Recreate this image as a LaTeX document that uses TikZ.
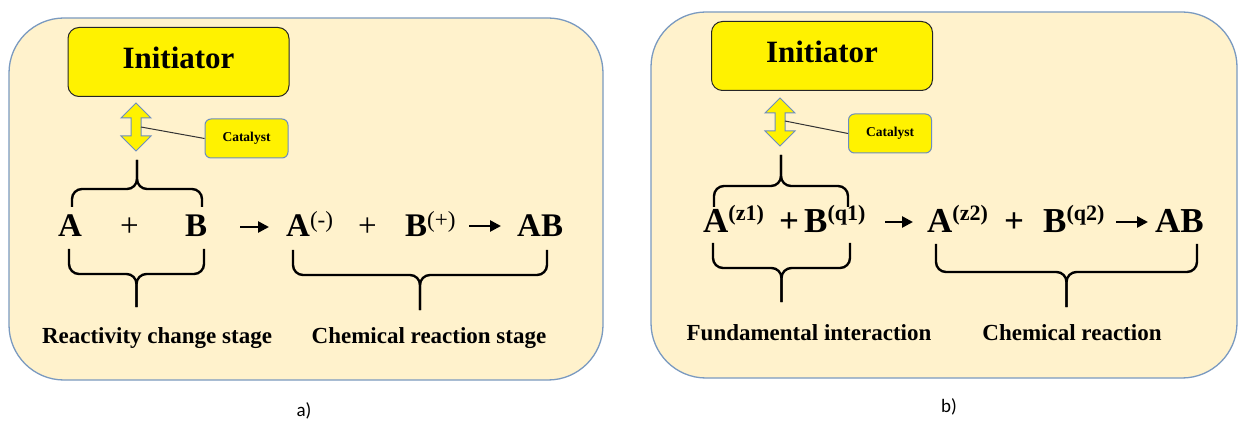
\documentclass[tikz,border=0pt]{standalone}
\usepackage{fontspec}
\setmainfont{Liberation Serif}
\newfontfamily\capfont{Carlito}
\usetikzlibrary{arrows.meta}
\tikzset{>=stealth}
\definecolor{panelfill}{HTML}{FFF2CC}
\definecolor{panelline}{HTML}{7A9AC0}
\definecolor{boxline}{HTML}{6C8EBF}
\newcommand\chargeb[1]{\raisebox{0.36em}{\fontsize{22}{22}\selectfont #1}}
\tikzset{
  panel/.style={draw=panelline, fill=panelfill, line width=1.3pt, rounded corners=55pt},
  initbox/.style={draw=black!85, fill=yellow, line width=1pt, rounded corners=11pt,
    minimum width=221pt, minimum height=69pt, inner sep=0pt, text depth=9pt,
    font=\bfseries\fontsize{31}{31}\selectfont},
  catbox/.style={draw=boxline, fill=yellow, line width=1pt, rounded corners=6pt,
    minimum width=83pt, minimum height=39pt, inner sep=0pt,
    font=\bfseries\fontsize{13.5}{13.5}\selectfont},
  dblarrow/.style={draw=boxline, fill=yellow, line width=1pt, line join=miter},
  term/.style={anchor=base west, inner sep=0pt, font=\bfseries\fontsize{33}{33}\selectfont},
  termb/.style={term, font=\bfseries\fontsize{35}{35}\selectfont},
  rxn/.style={line width=2.6pt, -{Triangle[length=11pt, width=11pt]}},
  brace/.style={line width=2.4pt, rounded corners=10pt},
  stage/.style={anchor=base, inner sep=0pt, font=\bfseries\fontsize{23}{23}\selectfont},
  tag/.style={anchor=base, inner sep=0pt, font=\capfont\fontsize{19}{19}\selectfont}
}
\begin{document}
\begin{tikzpicture}[x=1pt, y=-1pt]
	\useasboundingbox (0,0) rectangle (1240,422);
	% the two panels
	\draw[panel] (9,18) rectangle (603,380);
	\draw[panel] (651,12) rectangle (1237,378);
	% initiator and catalyst
	\node[initbox] (initA) at (178.5,62) {Initiator};
	\node[initbox] (initB) at (822,56) {Initiator};
	\node[catbox] (catA) at (246.5,138.5) {Catalyst};
	\node[catbox] (catB) at (890,133.5) {Catalyst};
	\foreach \cx/\cy in {136/127, 780/122}
	\draw[dblarrow, shift={(\cx,\cy)}] (0,-24) -- (15,-9) -- (5,-9) -- (5,9) -- (15,9) -- (0,24)
		-- (-15,9) -- (-5,9) -- (-5,-9) -- (-15,-9) -- cycle;
	\coordinate (dblA) at (141,127);
	\coordinate (dblB) at (785,121);
	\draw[line width=1pt, black!80] (dblA) -- (catA.west);
	\draw[line width=1pt, black!80] (dblB) -- (catB.west);
	% braces
	\foreach \xl/\xr/\ye/\yh/\yt in {72/202/207/189/160, 69/204/249/274/307, 293/547/250/275/310,
		714/848/207/186/155, 713/850/243/268/302, 936/1197/244/272/307}
	{
	\pgfmathsetmacro\xc{(\xl+\xr)/2}
	\draw[brace] (\xl,\ye) -- (\xl,\yh) -- (\xc,\yh) -- (\xc,\yt);
	\draw[brace] (\xr,\ye) -- (\xr,\yh) -- (\xc,\yh) -- (\xc,\yt);
	}
	% equation a)
	\foreach \x/\t [count=\i] in {58/A, 120/{\mdseries +}, 185/B, 286/{A\textsuperscript{\mdseries(-)}},
		358/{\mdseries +}, 405/{B\textsuperscript{\mdseries(+)}}, 517/AB}
	\node[term] (a\i) at (\x,237) {\t};
	\coordinate (rxA1) at (240,227);
	\coordinate (rxA2) at (269,227);
	\coordinate (rxA3) at (469,226);
	\coordinate (rxA4) at (501,226);
	\draw[rxn] (rxA1) -- (rxA2);
	\draw[rxn] (rxA3) -- (rxA4);
	% equation b)
	\foreach \x/\t [count=\i] in {703/{A\chargeb{(z1)}}, 779/+, 804/{B\chargeb{(q1)}},
		927/{A\chargeb{(z2)}}, 1004/+, 1043/{B\chargeb{(q2)}}, 1155/AB}
	\node[termb] (b\i) at (\x,233) {\t};
	\coordinate (rxB1) at (885,222);
	\coordinate (rxB2) at (913,222);
	\coordinate (rxB3) at (1116,222);
	\coordinate (rxB4) at (1148,222);
	\draw[rxn] (rxB1) -- (rxB2);
	\draw[rxn] (rxB3) -- (rxB4);
	% stage labels
	\node[stage] (stageA1) at (157,343) {Reactivity change stage};
	\node[stage] (stageA2) at (429,343) {Chemical reaction stage};
	\node[stage] (stageB1) at (809,340) {Fundamental interaction};
	\node[stage] (stageB2) at (1072,340) {Chemical reaction};
	\node[tag] (tagA) at (304,416) {a)};
	\node[tag] (tagB) at (949,412) {b)};
\end{tikzpicture}
\end{document}
